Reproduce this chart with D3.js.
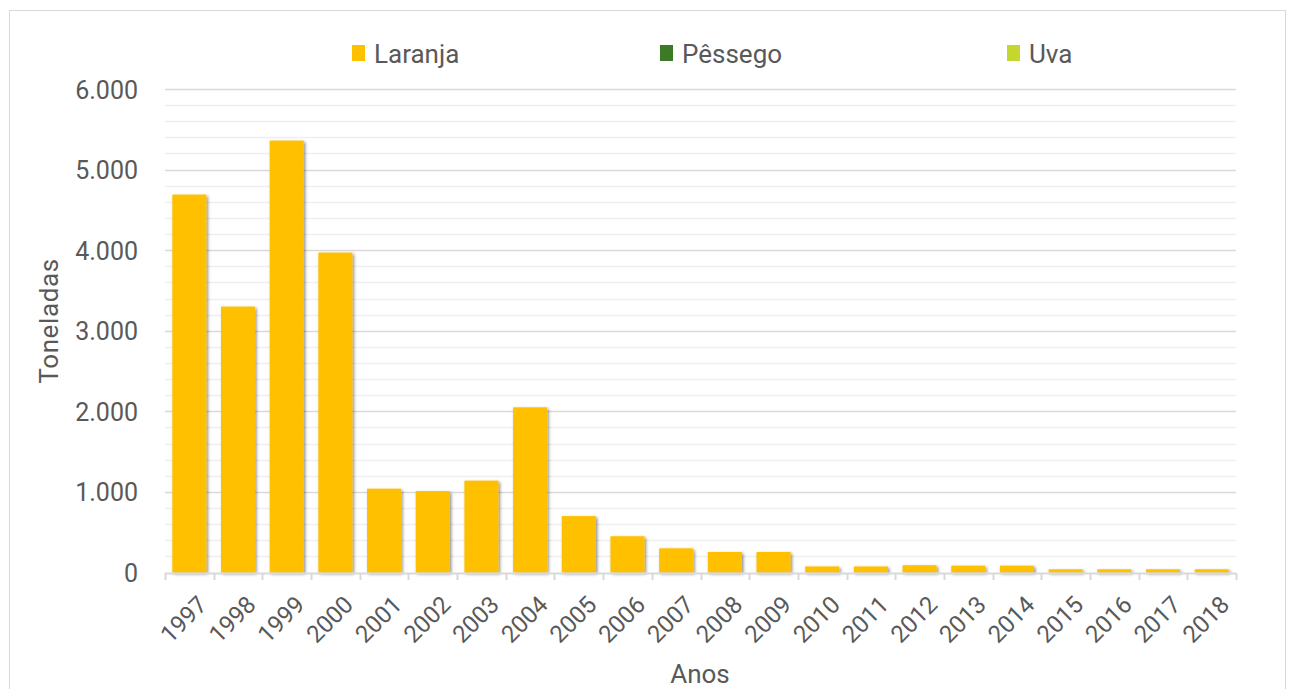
<!DOCTYPE html>
<html>
<head>
<meta charset="utf-8">
<script src="https://cdn.jsdelivr.net/npm/d3@7"></script>
<style>
  html, body { margin: 0; padding: 0; background: #fff; }
  svg { display: block; font-family: "Roboto", "Open Sans", sans-serif; }
</style>
</head>
<body>
<svg id="chart" width="1291" height="689"></svg>
<script>
// Anos
const years = ["1997","1998","1999","2000","2001","2002","2003","2004","2005","2006","2007",
               "2008","2009","2010","2011","2012","2013","2014","2015","2016","2017","2018"];
// Toneladas por fruta
const laranja = [4690, 3300, 5360, 3970, 1040, 1010, 1140, 2050, 700, 450, 300,
                 255, 255, 75, 75, 90, 85, 85, 40, 40, 40, 40];
const pessego = [0,0,0,0,0,0,0,0,0,0,0,0,0,0,0,0,0,0,0,0,0,0];
const uva     = [0,0,0,0,0,0,0,0,0,0,0,0,0,0,0,0,0,0,0,0,0,0];
const seriesNames = ["Laranja", "Pêssego", "Uva"];
const seriesColors = ["#ffc000", "#3d7a26", "#c4d62f"];
const yTicks = [0, 1000, 2000, 3000, 4000, 5000, 6000];

const svg = d3.select("#chart");
const m = { left: 165, right: 1236, top: 89, bottom: 572.5 };
const textColor = "#595959";

// outer frame
svg.append("rect").attr("x", 9.5).attr("y", 10.5).attr("width", 1276).attr("height", 700)
  .attr("fill", "#fff").attr("stroke", "#d9d9d9").attr("stroke-width", 1);

const defs = svg.append("defs");
const f = defs.append("filter").attr("id", "shadow")
  .attr("x", "-20%").attr("y", "-20%").attr("width", "150%").attr("height", "150%");
f.append("feDropShadow").attr("dx", 1.5).attr("dy", 1.5).attr("stdDeviation", 1.6)
  .attr("flood-color", "#000").attr("flood-opacity", 0.45);

const x = d3.scaleBand().domain(years).range([m.left, m.right])
  .paddingInner(0.3).paddingOuter(0.15);
const y = d3.scaleLinear().domain([0, 6000]).range([m.bottom, m.top]);

// gridlines: minor every 200, major every 1000
const minor = d3.range(200, 6000, 200).filter(v => v % 1000 !== 0);
svg.append("g").selectAll("line").data(minor).join("line")
  .attr("x1", m.left).attr("x2", m.right)
  .attr("y1", d => Math.round(y(d)) + 0.5).attr("y2", d => Math.round(y(d)) + 0.5)
  .attr("stroke", "#efefef").attr("stroke-width", 1.3);
svg.append("g").selectAll("line").data(yTicks.filter(v => v > 0)).join("line")
  .attr("x1", m.left).attr("x2", m.right)
  .attr("y1", d => Math.round(y(d)) + 0.5).attr("y2", d => Math.round(y(d)) + 0.5)
  .attr("stroke", "#d9d9d9").attr("stroke-width", 1.3);

// y axis labels
const yAxis = d3.axisLeft(y).tickValues(yTicks).tickSize(0).tickPadding(0)
  .tickFormat(d => d3.format(",")(d).replace(/,/g, "."));
const gy = svg.append("g").attr("transform", `translate(${m.left - 27},0)`).call(yAxis);
gy.select(".domain").remove();
gy.selectAll("text").attr("fill", textColor).style("font-size", "25px")
  .style("font-family", "Roboto, sans-serif").attr("dy", "0.36em");

// stacked bars
const rows = years.map((yr, i) => ({ year: yr, Laranja: laranja[i], "Pêssego": pessego[i], Uva: uva[i] }));
const stack = d3.stack().keys(seriesNames)(rows);
svg.append("g").selectAll("g").data(stack).join("g")
  .attr("fill", (d, i) => seriesColors[i])
  .attr("filter", "url(#shadow)")
  .selectAll("rect").data(d => d).join("rect")
  .attr("x", d => x(d.data.year))
  .attr("width", x.bandwidth())
  .attr("y", d => y(d[1]))
  .attr("height", d => Math.max(0, y(d[0]) - y(d[1])));

// x axis
const xAxisLine = svg.append("g");
xAxisLine.append("line").attr("x1", m.left).attr("x2", m.right)
  .attr("y1", 573.5).attr("y2", 573.5).attr("stroke", "#d9d9d9").attr("stroke-width", 2);
const bounds = years.map(yr => x(yr) - x.step() * x.paddingInner() / 2).concat([m.right]);
bounds[0] = m.left;
xAxisLine.selectAll("line.tk").data(bounds).join("line").attr("class", "tk")
  .attr("x1", d => Math.round(d) + 0.5).attr("x2", d => Math.round(d) + 0.5)
  .attr("y1", 573).attr("y2", 580).attr("stroke", "#d9d9d9").attr("stroke-width", 2);

svg.append("g").selectAll("text").data(years).join("text")
  .attr("transform", d => `translate(${x(d) + x.bandwidth() / 2 + 7},${594}) rotate(-45)`)
  .attr("text-anchor", "end").attr("dy", "0.72em")
  .attr("fill", textColor).style("font-size", "24px")
  .text(d => d);

// axis titles
svg.append("text").attr("transform", `translate(58,321) rotate(-90)`)
  .attr("text-anchor", "middle").attr("fill", textColor).style("font-size", "26px")
  .style("letter-spacing", "0.6px")
  .text("Toneladas");
svg.append("text").attr("x", 700).attr("y", 683)
  .attr("text-anchor", "middle").attr("fill", textColor).style("font-size", "26px")
  .text("Anos");

// legend
const legendX = [352, 660, 1007];
const lg = svg.append("g").selectAll("g").data(seriesNames).join("g")
  .attr("transform", (d, i) => `translate(${legendX[i]},45)`);
lg.append("rect").attr("width", 13).attr("height", 16).attr("y", 0)
  .attr("fill", (d, i) => seriesColors[i]);
lg.append("text").attr("x", 22).attr("y", 18)
  .attr("fill", textColor).style("font-size", "26px").text(d => d);
</script>
</body>
</html>
